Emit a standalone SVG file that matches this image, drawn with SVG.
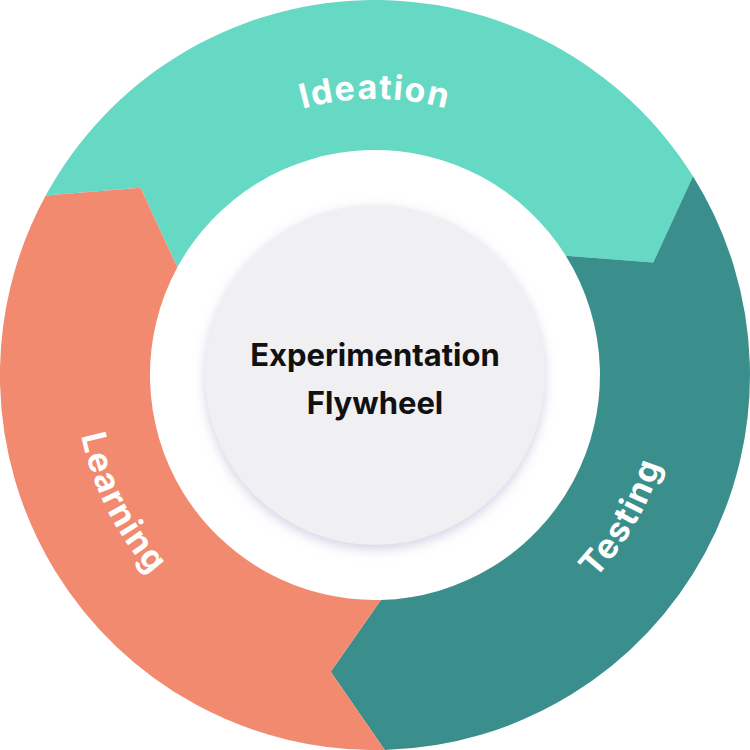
<svg xmlns="http://www.w3.org/2000/svg" width="750" height="750" viewBox="0 0 750 750">
<style>
.lbl{font-family:Inter,"Liberation Sans",sans-serif;font-weight:700;font-size:34px;fill:#fff;letter-spacing:1.5px}
.ctr{font-family:Inter,"Liberation Sans",sans-serif;font-weight:700;font-size:31px;fill:#111;text-anchor:middle}
</style>
<defs>
<filter id="sh" x="-20%" y="-20%" width="140%" height="140%"><feDropShadow dx="0" dy="4" stdDeviation="6" flood-color="#c9c6dc" flood-opacity="0.8"/></filter>
<path id="pI" d="M99,375 A276,276 0 0 1 651,375"/>
<path id="pT" d="M272.4,656.9 A300,300 0 0 0 567.8,145.2"/>
<path id="pL" d="M182.2,145.2 A300,300 0 0 0 477.6,656.9"/>
</defs>
<rect width="750" height="750" fill="#fff"/>
<g id="ideation">
<path d="M45.7,195.5 A375,375 0 0 1 693,176.3 L653.2,262.6 L565.8,255.8 A225,225 0 0 0 177.4,267.3 L140.5,187.8 Z" fill="#66d9c5"/>
<text class="lbl"><textPath href="#pI" startOffset="50%" text-anchor="middle">Ideation</textPath></text>
</g>
<g id="testing">
<path d="M693,176.3 A375,375 0 0 1 384.8,749.9 L330.7,671.7 L380.9,599.9 A225,225 0 0 0 565.8,255.8 L653.2,262.6 Z" fill="#3a8f8c"/>
<text class="lbl"><textPath href="#pT" startOffset="50%" text-anchor="middle">Testing</textPath></text>
</g>
<g id="learning">
<path d="M384.8,749.9 A375,375 0 0 1 45.7,195.5 L140.5,187.8 L177.4,267.3 A225,225 0 0 0 380.9,599.9 L330.7,671.7 Z" fill="#f28a70"/>
<text class="lbl"><textPath href="#pL" startOffset="48%" text-anchor="middle">Learning</textPath></text>
</g>
<g id="center">
<circle cx="375" cy="375" r="170" fill="#f0eff2" filter="url(#sh)"/>
<text class="ctr" x="375" y="366">Experimentation</text>
<text class="ctr" x="375" y="414">Flywheel</text>
</g>
<g id="connectors"/>
</svg>
